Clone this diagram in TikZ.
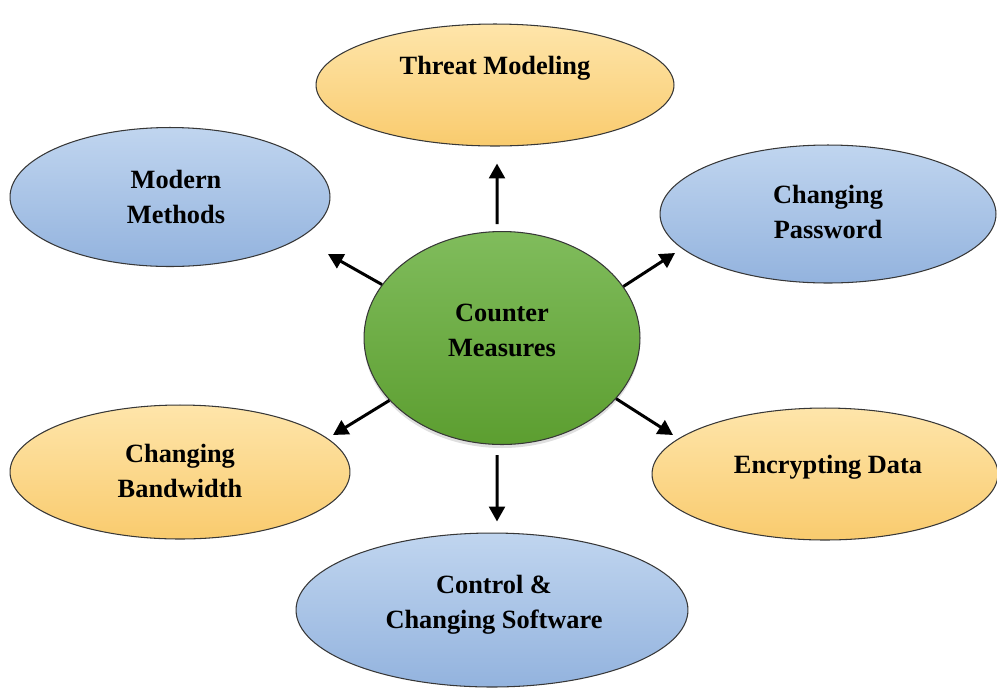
\documentclass[tikz,border=0pt]{standalone}
\usepackage{fontspec}
\setmainfont{Liberation Serif}
\usetikzlibrary{arrows.meta,shapes.geometric,shadows}
\definecolor{orT}{RGB}{254,229,170}
\definecolor{orB}{RGB}{249,203,110}
\definecolor{blT}{RGB}{192,213,239}
\definecolor{blB}{RGB}{147,179,222}
\definecolor{grT}{RGB}{128,188,92}
\definecolor{grB}{RGB}{92,158,48}
\definecolor{edge}{RGB}{55,55,55}
\tikzset{
  oval/.style={ellipse, draw=edge, line width=0.6pt, inner sep=0pt},
  orange/.style={oval, top color=orT, bottom color=orB},
  blue/.style={oval, top color=blT, bottom color=blB},
  green/.style={oval, top color=grT, bottom color=grB,
    drop shadow={shadow xshift=0pt, shadow yshift=-2pt, opacity=0.25}},
  lbl/.style={align=center, font=\fontsize{15}{20}\selectfont\bfseries, text=black},
  arr/.style={line width=1.7pt, -{Triangle[length=8.5pt,width=9pt]}}
}
\begin{document}
\begin{tikzpicture}[x=0.02cm,y=-0.02cm]
\useasboundingbox (0,0) rectangle (997,691);
% ovals
\node[green,  minimum width=5.52cm, minimum height=4.26cm] (cm) at (502,338) {};
\node[orange, minimum width=7.16cm, minimum height=2.44cm] (tm) at (495,85) {};
\node[blue,   minimum width=6.40cm, minimum height=2.78cm] (mm) at (170,197) {};
\node[blue,   minimum width=6.72cm, minimum height=2.76cm] (cp) at (828,214) {};
\node[orange, minimum width=6.80cm, minimum height=2.68cm] (cb) at (180,472) {};
\node[orange, minimum width=6.92cm, minimum height=2.64cm] (ed) at (825,474) {};
\node[blue,   minimum width=7.84cm, minimum height=3.08cm] (cs) at (492,610) {};
% labels
\node[lbl] (cmt) at (502,330) {Counter\\Measures};
\node[lbl] (tmt) at (495,68) {Threat Modeling};
\node[lbl] (mmt) at (176,197) {Modern\\Methods};
\node[lbl] (cpt) at (828,212) {Changing\\Password};
\node[lbl] (cbt) at (180,471) {Changing\\Bandwidth};
\node[lbl] (edt) at (828,467) {Encrypting Data};
\node[lbl] (cst) at (494,605) {Control \&\\Changing Software};
% arrow tips
\coordinate (tmm) at (328,254);
\coordinate (tcp) at (675,253);
\coordinate (tcb) at (333,435);
\coordinate (ted) at (673,435);
% connectors
\draw[arr, shorten <=0.14cm, shorten >=0.34cm] ([xshift=-0.1cm]cm.north) -- ([xshift=0.04cm]tm.south);
\draw[arr, shorten <=0.2cm, shorten >=0.22cm] ([xshift=-0.1cm]cm.south) -- ([xshift=0.1cm]cs.north);
\draw[arr] (cm.156) -- (tmm);
\draw[arr] (cm.23) -- (tcp);
\draw[arr] (cm.209) -- (tcb);
\draw[arr] (cm.332) -- (ted);
\end{tikzpicture}
\end{document}
